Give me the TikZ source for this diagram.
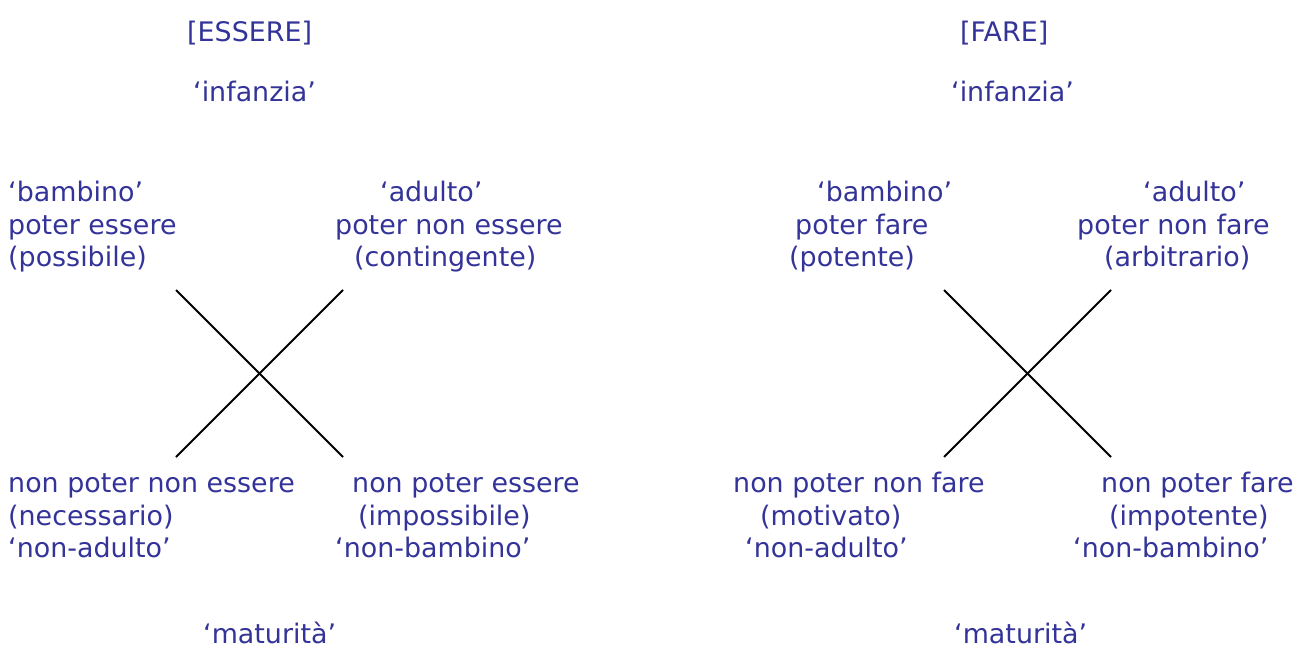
\documentclass[tikz,border=0pt]{standalone}
\usepackage{fontspec}
\setmainfont{DejaVu Sans}
\definecolor{ink}{RGB}{51,51,153}
\tikzset{
  lbl/.style={anchor=base west, inner sep=0pt, text=ink, font=\fontsize{27}{33}\selectfont},
  cross/.style={line width=2bp, black}
}
\begin{document}
\begin{tikzpicture}[x=1bp,y=-1bp]
            \useasboundingbox (0,0) rectangle (1305,657);

            % essere
            \node[lbl] (Es)   at (187,42)  {[ESSERE]};
            \node[lbl] (EsI)  at (193,102) {‘infanzia’};
            \node[lbl] (EsA1) at (8,201)   {‘bambino’};
            \node[lbl] (EsA2) at (8,234)   {poter essere};
            \node[lbl] (EsA3) at (8,266)   {(possibile)};
            \node[lbl] (EsB1) at (380,201) {‘adulto’};
            \node[lbl] (EsB2) at (335,234) {poter non essere};
            \node[lbl] (EsB3) at (354,266) {(contingente)};
            \node[lbl] (EsC1) at (8,492)   {non poter non essere};
            \node[lbl] (EsC2) at (8,525)   {(necessario)};
            \node[lbl] (EsC3) at (8,557)   {‘non-adulto’};
            \node[lbl] (EsD1) at (352,492) {non poter essere};
            \node[lbl] (EsD2) at (358,525) {(impossibile)};
            \node[lbl] (EsD3) at (335,557) {‘non-bambino’};
            \node[lbl] (EsM)  at (203,643) {‘maturità’};

            \coordinate (Ea) at (176,290); \coordinate (Eb) at (343,290);
            \coordinate (Ec) at (176,457); \coordinate (Ed) at (343,457);
            \draw[cross] (Ea) to (Ed); \draw[cross] (Eb) to (Ec);

            % fare
            \node[lbl] (Fa)   at (960,42)   {[FARE]};
            \node[lbl] (FaI)  at (951,102)  {‘infanzia’};
            \node[lbl] (FaA1) at (817,201)  {‘bambino’};
            \node[lbl] (FaA2) at (795,234)  {poter fare};
            \node[lbl] (FaA3) at (789,266)  {(potente)};
            \node[lbl] (FaB1) at (1143,201) {‘adulto’};
            \node[lbl] (FaB2) at (1077,234) {poter non fare};
            \node[lbl] (FaB3) at (1104,266) {(arbitrario)};
            \node[lbl] (FaC1) at (733,492)  {non poter non fare};
            \node[lbl] (FaC2) at (760,525)  {(motivato)};
            \node[lbl] (FaC3) at (745,557)  {‘non-adulto’};
            \node[lbl] (FaD1) at (1101,492) {non poter fare};
            \node[lbl] (FaD2) at (1109,525) {(impotente)};
            \node[lbl] (FaD3) at (1073,557) {‘non-bambino’};
            \node[lbl] (FaM)  at (954,643)  {‘maturità’};

            \coordinate (Fa1) at (944,290);  \coordinate (Fb1) at (1111,290);
            \coordinate (Fc1) at (944,457);  \coordinate (Fd1) at (1111,457);
            \draw[cross] (Fa1) to (Fd1); \draw[cross] (Fb1) to (Fc1);
        \end{tikzpicture}
\end{document}
